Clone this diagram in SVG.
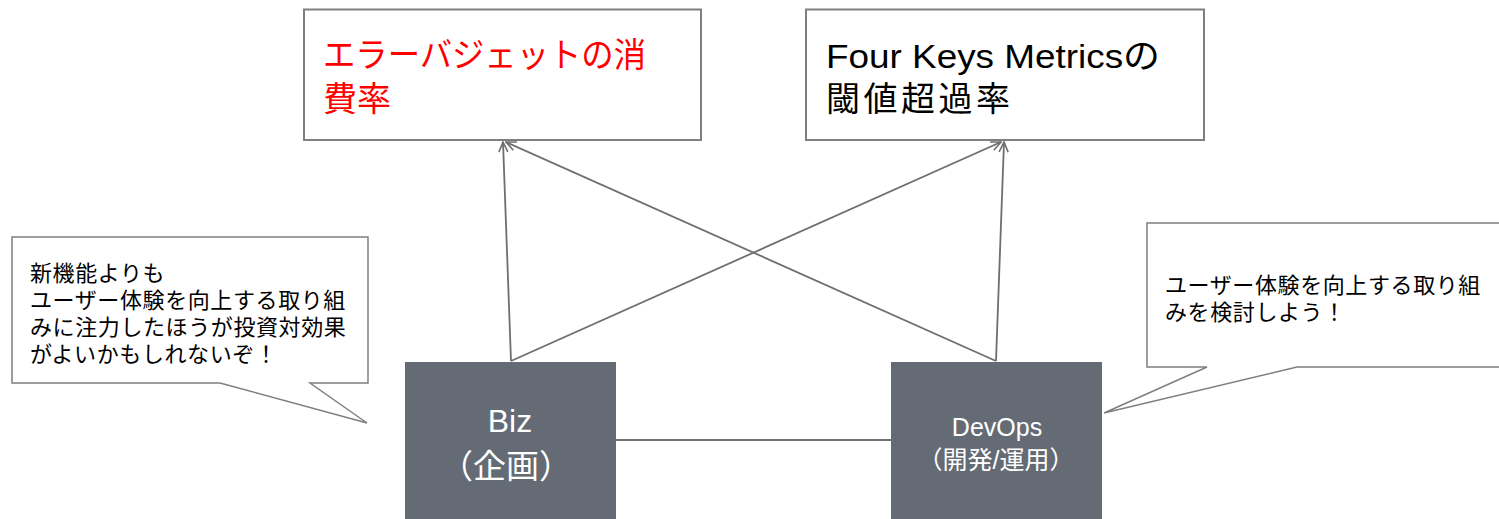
<svg xmlns="http://www.w3.org/2000/svg" width="1499" height="519" viewBox="0 0 1499 519">
  <style>
    .box { fill: #ffffff; stroke: #7f7f7f; stroke-width: 2; }
    .team { fill: #646b74; }
    .callout { fill: #ffffff; stroke: #7f7f7f; stroke-width: 1.5; stroke-linejoin: miter; }
    .conn { fill: none; stroke: #6e6e6e; stroke-width: 1.8; }
    .big { font-family: "Liberation Sans", "Noto Sans CJK JP", sans-serif; font-size: 34px; fill: #000000; }
    .red { fill: #ff0000; }
    .note { font-family: "Liberation Sans", "Noto Sans CJK JP", sans-serif; font-size: 22px; fill: #000000; letter-spacing: 0.6px; }
    .label { font-family: "Liberation Sans", "Noto Sans CJK JP", sans-serif; fill: #ffffff; text-anchor: middle; }
  </style>
  <defs>
    <marker id="arrow" viewBox="0 0 12 12" refX="11" refY="6" markerWidth="12" markerHeight="12" markerUnits="userSpaceOnUse" orient="auto">
      <path d="M1,1.5 L11,6 L1,10.5" fill="none" stroke="#6e6e6e" stroke-width="1.6"/>
    </marker>
  </defs>

  <rect width="1499" height="519" fill="#ffffff"/>

  <g id="node-error-budget">
    <rect class="box" x="304" y="9.5" width="397" height="130.5"/>
    <text class="big red" x="323" y="67" textLength="323" lengthAdjust="spacingAndGlyphs">エラーバジェットの消</text>
    <text class="big red" x="323" y="111">費率</text>
  </g>

  <g id="node-four-keys">
    <rect class="box" x="806" y="9.5" width="398" height="130.5"/>
    <text class="big" x="826" y="68" textLength="334" lengthAdjust="spacingAndGlyphs">Four Keys Metricsの</text>
    <text class="big" x="826" y="111" textLength="184">閾値超過率</text>
  </g>

  <g id="connectors">
    <line class="conn" x1="615" y1="440" x2="891" y2="440"/>
    <line class="conn" x1="511" y1="361" x2="503" y2="142" marker-end="url(#arrow)"/>
    <line class="conn" x1="511" y1="361" x2="1001" y2="142" marker-end="url(#arrow)"/>
    <line class="conn" x1="996" y1="361" x2="1004" y2="142" marker-end="url(#arrow)"/>
    <line class="conn" x1="996" y1="361" x2="506" y2="142" marker-end="url(#arrow)"/>
  </g>

  <g id="node-biz">
    <rect class="team" x="405" y="362" width="211" height="157"/>
    <text class="label" x="510" y="432" font-size="32">Biz</text>
    <text class="label" x="506" y="478" font-size="33">（企画）</text>
  </g>

  <g id="node-devops">
    <rect class="team" x="891" y="362" width="211" height="157"/>
    <text class="label" x="997" y="436" font-size="25">DevOps</text>
    <text class="label" x="996" y="469" font-size="25">（開発/運用）</text>
  </g>

  <g id="callout-biz">
    <path class="callout" d="M12,237 H368 V383 H310 L367,423 L220,383 H12 Z"/>
    <text class="note" x="30" y="281">新機能よりも</text>
    <text class="note" x="30" y="308">ユーザー体験を向上する取り組</text>
    <text class="note" x="30" y="335">みに注力したほうが投資対効果</text>
    <text class="note" x="30" y="362">がよいかもしれないぞ！</text>
  </g>

  <g id="callout-devops">
    <path class="callout" d="M1147,223 H1510 V367 H1297 L1104,413 L1207,367 H1147 Z"/>
    <text class="note" x="1165" y="293">ユーザー体験を向上する取り組</text>
    <text class="note" x="1165" y="320">みを検討しよう！</text>
  </g>
</svg>
